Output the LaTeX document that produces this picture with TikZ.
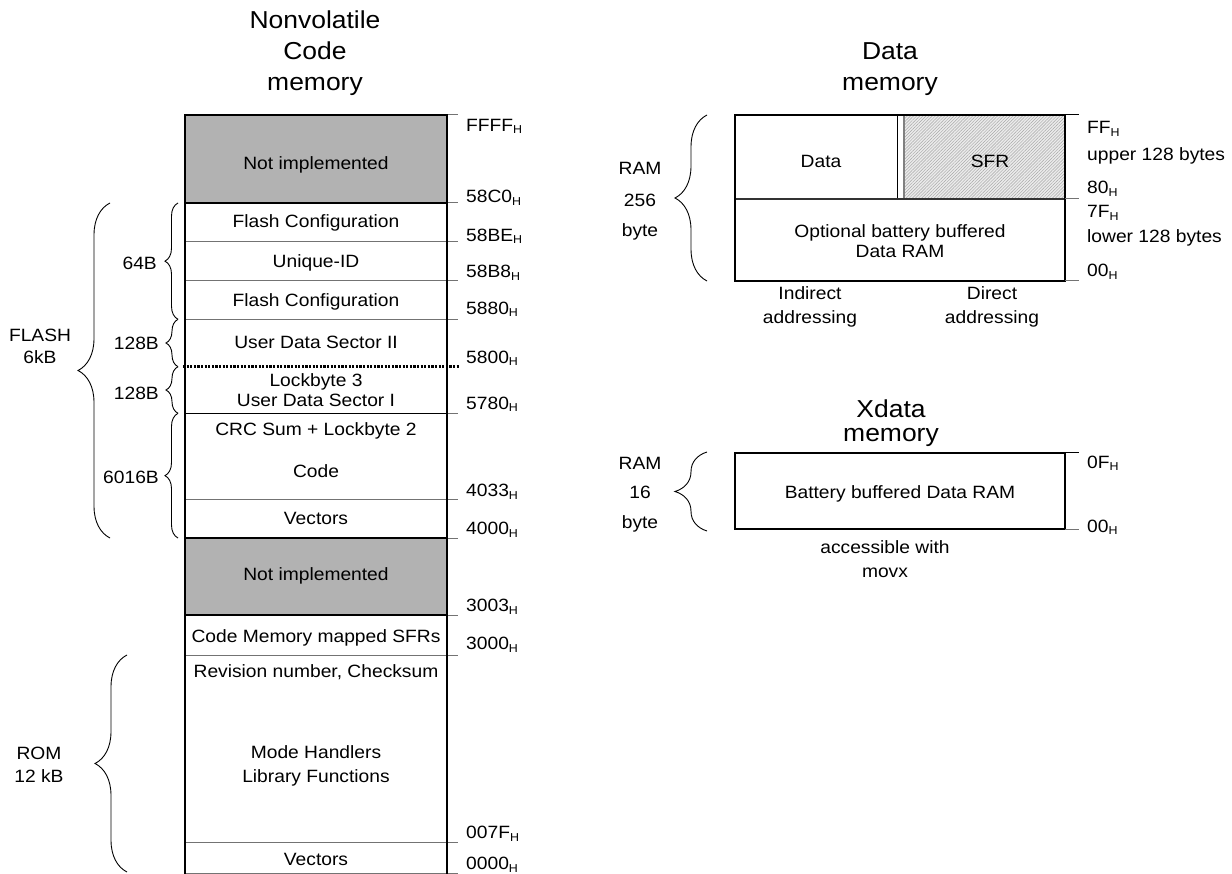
\documentclass[tikz,border=0pt]{standalone}
\usepackage{fontspec}
\setmainfont{Liberation Sans}[FakeStretch=1.08]
\usetikzlibrary{decorations.pathreplacing,patterns.meta}
\newcommand\Hs{\raisebox{-2.5pt}{\fontsize{11.5}{11.5}\selectfont H}}
\begin{document}
\begin{tikzpicture}[x=1pt,y=-1pt,
  body/.style={font=\fontsize{17.8}{20}\selectfont, inner sep=0pt, anchor=base},
  lbl/.style={font=\fontsize{17.8}{20}\selectfont, inner sep=0pt, anchor=base east},
  ttl/.style={font=\fontsize{24.5}{30}\selectfont, inner sep=0pt, anchor=base},
  addr/.style={font=\fontsize{17.8}{20}\selectfont, inner sep=0pt, anchor=base west},
  border/.style={line width=2.6pt, black},
  divb/.style={line width=1.1pt, black},
  divg/.style={line width=1pt, black!55},
  tickl/.style={line width=1pt, black!55},
  brc/.style={decorate, decoration={brace, amplitude=#1}, line width=0.9pt},
  grayfill/.style={fill=black!30},
]
\useasboundingbox (0,0) rectangle (1232,874);

% ---------- Code memory column ----------
\fill[grayfill] (185,115) rectangle (447,203);
\fill[grayfill] (185,538) rectangle (447,615);

% internal dividers
\draw[divb] (185,203) -- (447,203);
\draw[divg] (185,241.7) -- (447,241.7);
\draw[divg] (185,281) -- (447,281);
\draw[divg] (185,319.3) -- (447,319.3);
\draw[divb] (185,413.3) -- (447,413.3);
\draw[divg] (185,499.3) -- (447,499.3);
\draw[divb] (185,538) -- (447,538);
\draw[divb] (185,615) -- (447,615);
\draw[divg] (185,655) -- (447,655);
\draw[divg] (185,842.3) -- (447,842.3);
\draw[divg] (185,873) -- (447,873);
% ticks
\foreach \yy in {115,203,241.7,281,319.3,413.3,499.3,538,615,655,842.3,873}
  \draw[tickl] (447,\yy) -- (458,\yy);
% dotted boundary
\draw[line width=2.6pt, dash pattern=on 2.2pt off 1.4pt] (183,366.7) -- (460,366.7);
% outer border
\draw[border] (185,874) -- (185,115) -- (447,115) -- (447,874);

% texts in column
\node[body] (ni1) at (316,170) {Not implemented};
\node[body] (fc1) at (316,227.5) {Flash Configuration};
\node[body] (uid) at (316,268) {Unique-ID};
\node[body] (fc2) at (316,306.5) {Flash Configuration};
\node[body] (uds2) at (316,349) {User Data Sector II};
\node[body] (lb3) at (316,386.5) {Lockbyte 3};
\node[body] (uds1) at (316,406.5) {User Data Sector I};
\node[body] (crc) at (316,436) {CRC Sum + Lockbyte 2};
\node[body] (code) at (316,478) {Code};
\node[body] (vec1) at (316,524) {Vectors};
\node[body] (ni2) at (316,580) {Not implemented};
\node[body] (cms) at (316,642.5) {Code Memory mapped SFRs};
\node[body] (rev) at (316,677) {Revision number, Checksum};
\node[body] (mh) at (316,758) {Mode Handlers};
\node[body] (lf) at (316,782) {Library Functions};
\node[body] (vec2) at (316,865) {Vectors};

% addresses
\node[addr] (aFFFF) at (466,131.5) {FFFF\Hs};
\node[addr] (a58C0) at (466,203) {58C0\Hs};
\node[addr] (a58BE) at (466,241.5) {58BE\Hs};
\node[addr] (a58B8) at (466,278) {58B8\Hs};
\node[addr] (a5880) at (466,314.5) {5880\Hs};
\node[addr] (a5800) at (466,363.5) {5800\Hs};
\node[addr] (a5780) at (466,409.5) {5780\Hs};
\node[addr] (a4033) at (466,496.5) {4033\Hs};
\node[addr] (a4000) at (466,534.5) {4000\Hs};
\node[addr] (a3003) at (466,611.5) {3003\Hs};
\node[addr] (a3000) at (466,649.5) {3000\Hs};
\node[addr] (a007F) at (466,838.5) {007F\Hs};
\node[addr] (a0000) at (466,869.5) {0000\Hs};

% titles
\node[ttl] (t1a) at (315,29) {Nonvolatile};
\node[ttl] (t1b) at (315,60) {Code};
\node[ttl] (t1c) at (315,91) {memory};
\node[ttl] (t2a) at (890,60) {Data};
\node[ttl] (t2b) at (890,91) {memory};
\node[ttl] (t3a) at (891,418) {Xdata};
\node[ttl] (t3b) at (891,442) {memory};

% braces left
\coordinate (fT) at (110,203); \coordinate (fB) at (110,538);
\draw[brc=32pt] (fB) -- (fT);
\coordinate (b1T) at (178,203); \coordinate (b1B) at (178,319.3);
\draw[brc=13pt] (b1B) -- (b1T);
\coordinate (b2B) at (178,366.7);
\draw[brc=12pt] (b2B) -- (b1B);
\coordinate (b3B) at (178,413.3);
\draw[brc=12pt] (b3B) -- (b2B);
\coordinate (b4B) at (178,538);
\draw[brc=13pt] (b4B) -- (b3B);
\coordinate (rT) at (127,655); \coordinate (rB) at (127,872);
\draw[brc=32pt] (rB) -- (rT);

\node[lbl] (l64) at (157,269.5) {64B};
\node[lbl] (l128a) at (159,349.5) {128B};
\node[lbl] (l128b) at (159,399.5) {128B};
\node[lbl] (l6016) at (159,483.5) {6016B};
\node[body] (flash) at (40,341.5) {FLASH};
\node[body] (f6k) at (40,363.5) {6kB};
\node[body] (rom) at (39,759.5) {ROM};
\node[body] (r12) at (39,782.5) {12 kB};

% ---------- Data memory ----------
\fill[black!8] (903,115) rectangle (1065,199);
\fill[pattern={Lines[angle=45,distance=2.2pt,line width=0.45pt]}, pattern color=black!35] (903,115) rectangle (1065,199);
\draw[line width=1.6pt] (897.5,115) -- (897.5,199);
\draw[line width=2pt, black!50] (904,115) -- (904,199);
\draw[line width=1.4pt, black!80] (735,199) -- (1065,199);
\draw[border] (735,115) rectangle (1065,281);
\draw[line width=1pt] (1065,115) -- (1079,115);
\draw[tickl] (1065,199) -- (1079,199);
\draw[tickl] (1065,281) -- (1079,281);

\node[body] (dData) at (821,168) {Data};
\node[body] (dSFR) at (990,168) {SFR};
\node[body] (dopt) at (900,238) {Optional battery buffered};
\node[body] (dram) at (900,258) {Data RAM};
\node[body] (ind1) at (810,299.5) {Indirect};
\node[body] (ind2) at (810,323.5) {addressing};
\node[body] (dir1) at (992,299.5) {Direct};
\node[body] (dir2) at (992,323.5) {addressing};

\node[addr] (dFF) at (1087,134) {FF\Hs};
\node[addr] (dup) at (1087,161) {upper 128 bytes};
\node[addr] (d80) at (1087,194) {80\Hs};
\node[addr] (d7F) at (1087,218) {7F\Hs};
\node[addr] (dlo) at (1087,243) {lower 128 bytes};
\node[addr] (d00) at (1087,277) {00\Hs};

\coordinate (dT) at (707,115); \coordinate (dB) at (707,281);
\draw[brc=32pt] (dB) -- (dT);
\node[body] (dr1) at (640,174.5) {RAM};
\node[body] (dr2) at (640,206.5) {256};
\node[body] (dr3) at (640,236.5) {byte};

% ---------- Xdata memory ----------
\draw[border] (735,453) rectangle (1065,529);
\draw[line width=1pt] (1065,453) -- (1079,453);
\draw[tickl] (1065,529) -- (1079,529);
\node[body] (xbb) at (900,498.5) {Battery buffered Data RAM};
\node[body] (xa1) at (885,553) {accessible with};
\node[body] (xa2) at (885,577) {movx};
\node[addr] (x0F) at (1087,468) {0F\Hs};
\node[addr] (x00) at (1087,532) {00\Hs};

\coordinate (xT) at (707,452); \coordinate (xB) at (707,531);
\draw[brc=32pt] (xB) -- (xT);
\node[body] (xr1) at (640,469.5) {RAM};
\node[body] (xr2) at (640,498.5) {16};
\node[body] (xr3) at (640,528) {byte};
\end{tikzpicture}
\end{document}
